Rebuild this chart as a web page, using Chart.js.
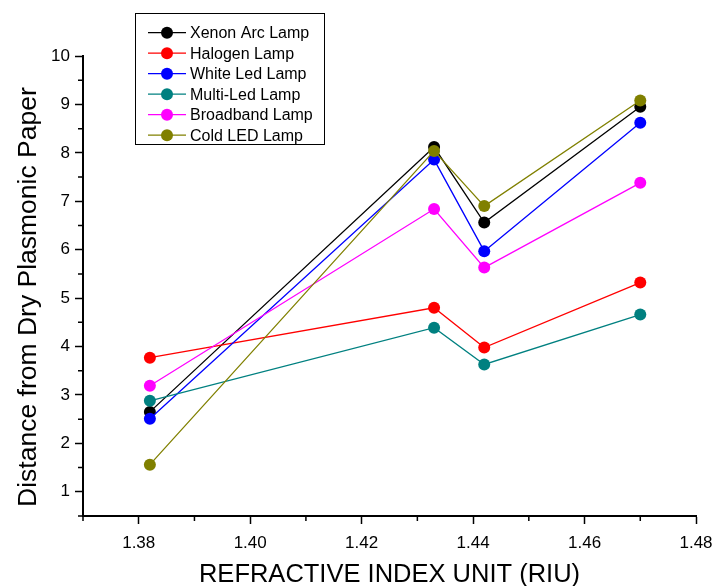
<!DOCTYPE html>
<html>
<head>
<meta charset="utf-8">
<script src="https://cdn.jsdelivr.net/npm/chart.js@4.4.1/dist/chart.umd.min.js"></script>
<style>
  html, body { margin: 0; padding: 0; background: #fff; }
  #wrap { width: 713px; height: 586px; }
</style>
</head>
<body>
<div id="wrap"><canvas id="riuChart" width="713" height="586"></canvas></div>
<script>
/* refractive index (x) for each measurement */
const riu = [1.382, 1.433, 1.442, 1.470];

/* distance readings per lamp */
const xenonArc  = [2.65, 8.12, 6.56, 8.95];
const halogen   = [3.77, 4.80, 3.98, 5.32];
const whiteLed  = [2.51, 7.86, 5.97, 8.62];
const multiLed  = [2.88, 4.39, 3.63, 4.66];
const broadband = [3.19, 6.84, 5.63, 7.38];
const coldLed   = [1.56, 8.04, 6.90, 9.08];

const lampNames  = ['Xenon Arc Lamp', 'Halogen Lamp', 'White Led Lamp', 'Multi-Led Lamp', 'Broadband Lamp', 'Cold LED Lamp'];
const lampColors = ['#000000', '#ff0000', '#0000ff', '#008080', '#ff00ff', '#808000'];
const lampSeries = [xenonArc, halogen, whiteLed, multiLed, broadband, coldLed];

const FONT = "Arial, 'Liberation Sans', sans-serif";

const datasets = lampSeries.map((vals, i) => ({
  label: lampNames[i],
  data: vals.map((v, j) => ({ x: riu[j], y: v })),
  borderColor: lampColors[i],
  backgroundColor: lampColors[i],
  borderWidth: 1.3,
  pointRadius: 6,
  pointBorderWidth: 0,
  pointHoverRadius: 6,
  tension: 0,
  order: lampSeries.length - i // later series drawn on top, like the original
}));

// minor tick marks (major ones come from chart.js grid)
const minorTicks = {
  id: 'minorTicks',
  afterDraw(chart) {
    const c = chart.ctx;
    const xs = chart.scales.x, ys = chart.scales.y;
    c.save();
    c.strokeStyle = '#000';
    c.lineWidth = 1.5;
    c.beginPath();
    xs.ticks.forEach(t => {
      if (Math.round(t.value * 100) % 2 === 0) return;
      const px = xs.getPixelForValue(t.value);
      c.moveTo(px, ys.bottom); c.lineTo(px, ys.bottom + 5);
    });
    ys.ticks.forEach(t => {
      if (Number.isInteger(Math.round(t.value * 100) / 100)) return;
      const py = ys.getPixelForValue(t.value);
      c.moveTo(xs.left, py); c.lineTo(xs.left - 5, py);
    });
    c.stroke();
    c.restore();
  }
};

// boxed legend with line + marker symbols
const boxLegend = {
  id: 'boxLegend',
  afterDraw(chart) {
    const c = chart.ctx;
    const bx = 135, by = 13, bw = 189, bh = 131;
    c.save();
    c.strokeStyle = '#000';
    c.lineWidth = 1;
    c.strokeRect(bx + 0.5, by + 0.5, bw, bh);
    c.font = '16px ' + FONT;
    c.textBaseline = 'middle';
    chart.data.datasets.forEach((ds, i) => {
      const y = 32.7 + i * 20.5;
      c.strokeStyle = ds.borderColor;
      c.lineWidth = 1.3;
      c.beginPath(); c.moveTo(148, y); c.lineTo(186, y); c.stroke();
      c.fillStyle = ds.backgroundColor;
      c.beginPath(); c.arc(167, y, 6, 0, Math.PI * 2); c.fill();
      c.fillStyle = '#000';
      c.fillText(ds.label, 190, y + 1);
    });
    c.restore();
  }
};

new Chart(document.getElementById('riuChart'), {
  type: 'line',
  data: { datasets },
  plugins: [minorTicks, boxLegend],
  options: {
    responsive: false,
    animation: false,
    devicePixelRatio: 1,
    layout: { padding: { top: 56, right: 17, left: 0, bottom: 0 } },
    plugins: { legend: { display: false }, tooltip: { enabled: false } },
    scales: {
      x: {
        type: 'linear',
        min: 1.37, max: 1.48,
        afterFit: s => { s.height = 70; s.paddingLeft = 0; s.paddingRight = 0; },
        border: { display: true, color: '#000', width: 2 },
        grid: {
          drawOnChartArea: false,
          tickLength: 8,
          tickWidth: 1.5,
          tickColor: ctx => (ctx.tick && Math.round(ctx.tick.value * 100) % 2 === 0) ? '#000' : 'rgba(0,0,0,0)'
        },
        ticks: {
          stepSize: 0.01,
          autoSkip: false,
          maxRotation: 0,
          padding: 9,
          color: '#000',
          font: { family: FONT, size: 17 },
          callback: v => (Math.round(v * 100) % 2 === 0) ? v.toFixed(2) : ''
        },
        title: {
          display: true,
          text: 'REFRACTIVE INDEX UNIT (RIU)',
          color: '#000',
          font: { family: FONT, size: 25.5 },
          padding: { top: 0, bottom: -4 }
        }
      },
      y: {
        type: 'linear',
        min: 0.5, max: 10,
        afterFit: s => { s.width = 83; s.paddingTop = 0; s.paddingBottom = 0; },
        border: { display: true, color: '#000', width: 2 },
        grid: {
          drawOnChartArea: false,
          tickLength: 8,
          tickWidth: 1.5,
          tickColor: ctx => (ctx.tick && Number.isInteger(ctx.tick.value)) ? '#000' : 'rgba(0,0,0,0)'
        },
        ticks: {
          stepSize: 0.5,
          autoSkip: false,
          padding: 5,
          color: '#000',
          font: { family: FONT, size: 17 },
          callback: v => Number.isInteger(v) ? String(v) : ''
        },
        title: {
          display: true,
          // trailing spaces nudge the rotated title down, as in the original
          text: 'Distance from Dry Plasmonic Paper\u00a0\u00a0\u00a0',
          color: '#000',
          font: { family: FONT, size: 26.5 },
          padding: { top: 13, bottom: 0 }
        }
      }
    }
  }
});
</script>
</body>
</html>
